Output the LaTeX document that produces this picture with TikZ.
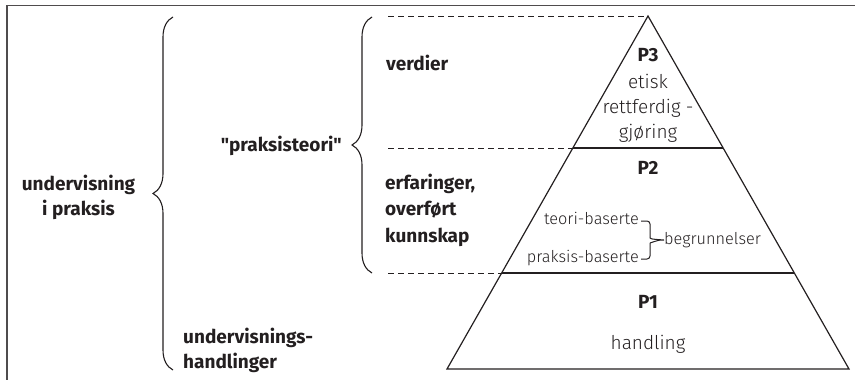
\documentclass[tikz,border=0pt]{standalone}
\usepackage{fontspec}
\setmainfont{Fira Sans}[Ligatures=TeXOff]
\newfontfamily\lightfont{Fira Sans Light}
\usetikzlibrary{decorations.pathreplacing}
\definecolor{ink}{HTML}{231F20}
\tikzset{
  lbl/.style={inner sep=0pt, text=ink, font=\bfseries\fontsize{19}{25}\selectfont},
  thin/.style={inner sep=0pt, text=ink, font=\lightfont\fontsize{19}{25}\selectfont},
  small/.style={inner sep=0pt, text=ink, font=\lightfont\fontsize{16.3}{20}\selectfont},
  line/.style={draw=ink, line width=1.2pt},
  guide/.style={draw=ink, line width=1pt, dash pattern=on 6pt off 4pt},
  curly/.style={draw=ink, line width=1.1pt, decorate,
    decoration={brace, amplitude=20pt, aspect=0.5}},
}
\begin{document}
\begin{tikzpicture}[x=1pt,y=-1pt]
\useasboundingbox (0,0) rectangle (855,380);

% frame: top and left edges only
\draw[draw=ink!80, line width=1.4pt] (7,380) -- (7,5.5) -- (855,5.5);

% pyramid corners and level points
\coordinate (apex) at (648,16);
\coordinate (bl) at (447,369);
\coordinate (br) at (849,369);
\coordinate (l3) at (573,148);
\coordinate (r3) at (723,148);
\coordinate (l2) at (502,273);
\coordinate (r2) at (794,273);
\draw[line, line join=miter] (apex) -- (bl) -- (br) -- cycle;
\draw[line] (l3) -- (r3);
\draw[line] (l2) -- (r2);

% dashed guides towards the braces
\coordinate (g1) at (388,16);
\coordinate (g2) at (388,148);
\coordinate (g3) at (388,273);
\draw[guide] (g1) -- (apex);
\draw[guide] (g2) -- (l3);
\draw[guide] (g3) -- (l2);

% braces
\coordinate (b1a) at (173,370);
\coordinate (b1b) at (173,17);
\coordinate (b2a) at (372,273);
\coordinate (b2b) at (372,17);
\draw[curly] (b1a) -- (b1b);
\draw[curly] (b2a) -- (b2b);

% left column
\node[lbl, align=center] (uip) at (78.5,197.5) {undervisning\\i praksis};
\node[lbl, anchor=east] (pt) at (342,146) {"praksisteori"};
\node[lbl, anchor=west] (verd) at (386,63) {verdier};
\node[lbl, anchor=west, align=left, font=\bfseries\fontsize{19}{26.5}\selectfont]
  (erf) at (385,210) {erfaringer,\\overført\\kunnskap};
\node[lbl, anchor=west, align=left] (uh) at (183,350.5) {undervisnings-\\handlinger};

% pyramid labels
\node[lbl] (p3) at (648,55) {P3};
\node[thin, align=center] (p3t) at (648,108) {etisk\\rettferdig -\\gjøring};
\node[lbl] (p2) at (648,168) {P2};
\node[small, anchor=east] (teori) at (639,218) {teori-baserte};
\node[small, anchor=east] (praks) at (639,258) {praksis-baserte};
\node[small, anchor=west] (begr) at (664,240) {begrunnelser};
\node[lbl] (p1) at (648,302) {P1};
\node[thin] (hand) at (648,344) {handling};

% small brace joining the two kinds of reasons
\draw[draw=ink, line width=1pt, rounded corners=3pt]
  (teori.east) ++(2,3) -- ++(9,0) -- ++(0,16) coordinate (tu);
\draw[draw=ink, line width=1pt, rounded corners=3pt]
  (praks.east) ++(2,1) -- ++(9,0) -- ++(0,-16) coordinate (td);
\draw[draw=ink, line width=1pt] (tu) .. controls ++(0,2) .. (begr.west) .. controls ++(-5,0) .. (td);
\end{tikzpicture}
\end{document}
